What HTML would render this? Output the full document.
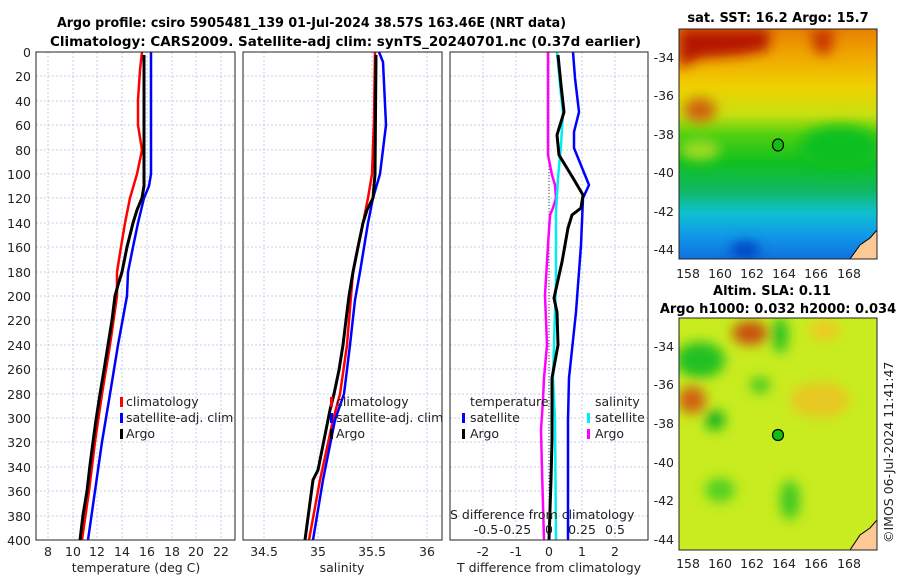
<!DOCTYPE html>
<html><head><meta charset="utf-8"><style>
body{margin:0;background:#fff;}
svg{display:block;font-family:"DejaVu Sans","Liberation Sans",sans-serif;}
.t{font-size:12.5px;fill:#222}
.b{font-size:13px;font-weight:bold;fill:#000}
.g{stroke:#b8c4e8;stroke-width:0.8;stroke-dasharray:2,2}
</style></head><body>
<svg width="900" height="580" viewBox="0 0 900 580">
<defs>
<linearGradient id="sst" x1="0" y1="0" x2="0" y2="1">
<stop offset="0" stop-color="#e88000"/><stop offset="0.12" stop-color="#f0a800"/>
<stop offset="0.25" stop-color="#f0d000"/><stop offset="0.37" stop-color="#c8e010"/>
<stop offset="0.46" stop-color="#50d010"/><stop offset="0.58" stop-color="#10c020"/>
<stop offset="0.7" stop-color="#10b860"/><stop offset="0.8" stop-color="#10c0d0"/>
<stop offset="0.9" stop-color="#1098e8"/><stop offset="1" stop-color="#1070e0"/>
</linearGradient>
<filter id="bl"><feGaussianBlur stdDeviation="6"/></filter>
<clipPath id="c1"><rect x="679" y="29" width="198" height="230"/></clipPath>
<clipPath id="c2"><rect x="679" y="318" width="198" height="232"/></clipPath>
</defs>
<text x="57" y="27" textLength="509" lengthAdjust="spacingAndGlyphs" class="b">Argo profile: csiro 5905481_139 01-Jul-2024 38.57S 163.46E (NRT data)</text>
<text x="50" y="46" textLength="591" lengthAdjust="spacingAndGlyphs" class="b">Climatology: CARS2009. Satellite-adj clim: synTS_20240701.nc (0.37d earlier)</text>

<!-- Panel 1 -->
<g>
<g class="g">
<line x1="48" y1="52" x2="48" y2="540"/><line x1="73" y1="52" x2="73" y2="540"/><line x1="97" y1="52" x2="97" y2="540"/><line x1="122" y1="52" x2="122" y2="540"/><line x1="147" y1="52" x2="147" y2="540"/><line x1="172" y1="52" x2="172" y2="540"/><line x1="196" y1="52" x2="196" y2="540"/><line x1="221" y1="52" x2="221" y2="540"/>
</g>
<g id="hg" class="g">
<line x1="36" y1="76" x2="235" y2="76"/><line x1="36" y1="101" x2="235" y2="101"/><line x1="36" y1="125" x2="235" y2="125"/><line x1="36" y1="150" x2="235" y2="150"/><line x1="36" y1="174" x2="235" y2="174"/><line x1="36" y1="198" x2="235" y2="198"/><line x1="36" y1="223" x2="235" y2="223"/><line x1="36" y1="247" x2="235" y2="247"/><line x1="36" y1="272" x2="235" y2="272"/><line x1="36" y1="296" x2="235" y2="296"/><line x1="36" y1="320" x2="235" y2="320"/><line x1="36" y1="345" x2="235" y2="345"/><line x1="36" y1="369" x2="235" y2="369"/><line x1="36" y1="394" x2="235" y2="394"/><line x1="36" y1="418" x2="235" y2="418"/><line x1="36" y1="442" x2="235" y2="442"/><line x1="36" y1="467" x2="235" y2="467"/><line x1="36" y1="491" x2="235" y2="491"/><line x1="36" y1="516" x2="235" y2="516"/>
</g>
<polyline fill="none" stroke="#f00" stroke-width="2.5" points="142,52 140,70 138,100 138,125 142,150 137,174 130,198 125,223 121,247 117,272 117,296 110,345 102,394 95,442 89,491 82,540"/>
<polyline fill="none" stroke="#00f" stroke-width="2.5" points="151,52 151,174 149,186 144,198 138,223 133,247 128,272 127,296 118,345 110,394 102,442 95,491 88,540"/>
<polyline fill="none" stroke="#000" stroke-width="3" points="144,55 144,186 142,198 137,210 133,223 127,247 122,272 118,285 115,296 112,320 108,345 104,370 100,394 96,420 93,442 90,465 87,491 83,515 80,540"/>
<rect x="36" y="52" width="199" height="488" fill="none" stroke="#222" stroke-width="1"/>
<rect x="120" y="397" width="3" height="10" fill="#f00"/><text x="126" y="406" class="t">climatology</text>
<rect x="120" y="413" width="3" height="10" fill="#00f"/><text x="126" y="422" class="t">satellite-adj. clim</text>
<rect x="120" y="429" width="3" height="10" fill="#000"/><text x="126" y="438" class="t">Argo</text>
<g class="t" text-anchor="end">
<text x="31" y="57">0</text><text x="31" y="81">20</text><text x="31" y="106">40</text><text x="31" y="130">60</text><text x="31" y="155">80</text><text x="31" y="179">100</text><text x="31" y="203">120</text><text x="31" y="228">140</text><text x="31" y="252">160</text><text x="31" y="277">180</text><text x="31" y="301">200</text><text x="31" y="325">220</text><text x="31" y="350">240</text><text x="31" y="374">260</text><text x="31" y="399">280</text><text x="31" y="423">300</text><text x="31" y="447">320</text><text x="31" y="472">340</text><text x="31" y="496">360</text><text x="31" y="521">380</text><text x="31" y="545">400</text>
</g>
<g class="t" text-anchor="middle">
<text x="48" y="556">8</text><text x="73" y="556">10</text><text x="97" y="556">12</text><text x="122" y="556">14</text><text x="147" y="556">16</text><text x="172" y="556">18</text><text x="196" y="556">20</text><text x="221" y="556">22</text>
<text x="136" y="572">temperature (deg C)</text>
</g>
</g>

<!-- Panel 2 -->
<g>
<g class="g"><line x1="264" y1="52" x2="264" y2="540"/><line x1="318" y1="52" x2="318" y2="540"/><line x1="372" y1="52" x2="372" y2="540"/><line x1="427" y1="52" x2="427" y2="540"/></g>
<use href="#hg" transform="translate(207,0)"/>
<polyline fill="none" stroke="#f00" stroke-width="2.5" points="375,52 374,120 372,174 368,198 363,223 358,247 353,272 347,345 340,394 333,420 320,480 309,540"/>
<polyline fill="none" stroke="#00f" stroke-width="2.5" points="379,52 383,62 386,125 380,174 373,198 368,223 360,272 355,300 350,345 344,394 335,420 323,480 313,540"/>
<polyline fill="none" stroke="#000" stroke-width="3" points="376,55 375,174 373,198 367,210 363,223 358,247 353,272 349,296 346,320 343,345 339,370 334,394 330,410 328,420 322,450 318,470 313,480 309,510 305,540"/>
<rect x="243" y="52" width="199" height="488" fill="none" stroke="#222"/>
<rect x="330" y="397" width="3" height="10" fill="#f00"/><text x="336" y="406" class="t">climatology</text>
<rect x="330" y="413" width="3" height="10" fill="#00f"/><text x="336" y="422" class="t">satellite-adj. clim</text>
<rect x="330" y="429" width="3" height="10" fill="#000"/><text x="336" y="438" class="t">Argo</text>
<g class="t" text-anchor="middle"><text x="264" y="556">34.5</text><text x="318" y="556">35</text><text x="372" y="556">35.5</text><text x="427" y="556">36</text><text x="342" y="572">salinity</text></g>
</g>

<!-- Panel 3 -->
<g>
<g class="g"><line x1="483" y1="52" x2="483" y2="540"/><line x1="516" y1="52" x2="516" y2="540"/><line x1="549" y1="52" x2="549" y2="540"/><line x1="582" y1="52" x2="582" y2="540"/><line x1="615" y1="52" x2="615" y2="540"/></g>
<use href="#hg" transform="translate(414,0)"/>
<line x1="549" y1="52" x2="549" y2="540" stroke="#444" stroke-dasharray="1,2"/>
<polyline fill="none" stroke="#f0f" stroke-width="2.5" points="548,52 548,155 552,175 555,185 556,198 553,208 550,215 548,245 547,262 545,295 547,345 544,378 543,400 541,430 542,470 544,540"/>
<polyline fill="none" stroke="#0ee" stroke-width="2.5" points="557,52 561,95 563,112 561,145 558,178 556,212 556,278 553,378 555,420 556,540"/>
<polyline fill="none" stroke="#00f" stroke-width="2.5" points="573,52 575,78 579,112 574,132 574,148 589,185 583,198 581,245 576,312 569,378 568,420 568,540"/>
<polyline fill="none" stroke="#000" stroke-width="3" points="558,55 561,85 564,112 557,135 559,155 573,178 583,195 581,208 572,215 568,228 562,262 554,298 557,312 558,345 552,378 552,440 551,480 550,510 549,540"/>
<rect x="450" y="52" width="198" height="488" fill="none" stroke="#222"/>
<text x="470" y="406" class="t">temperature</text>
<rect x="462" y="413" width="3" height="10" fill="#00f"/><text x="470" y="422" class="t">satellite</text>
<rect x="462" y="429" width="3" height="10" fill="#000"/><text x="470" y="438" class="t">Argo</text>
<text x="595" y="406" class="t">salinity</text>
<rect x="587" y="413" width="3" height="10" fill="#0ee"/><text x="595" y="422" class="t">satellite</text>
<rect x="587" y="429" width="3" height="10" fill="#f0f"/><text x="595" y="438" class="t">Argo</text>
<text x="450" y="519" class="t">S difference from climatology</text>
<g class="t" text-anchor="middle"><text x="486" y="534">-0.5</text><text x="515" y="534">-0.25</text><text x="549" y="534">0</text><text x="582" y="534">0.25</text><text x="615" y="534">0.5</text>
<text x="483" y="556">-2</text><text x="516" y="556">-1</text><text x="549" y="556">0</text><text x="582" y="556">1</text><text x="615" y="556">2</text>
<text x="549" y="572">T difference from climatology</text></g>
</g>

<!-- Map 1 -->
<text x="778" y="22" text-anchor="middle" class="b">sat. SST: 16.2 Argo: 15.7</text>
<g clip-path="url(#c1)">
<rect x="679" y="29" width="198" height="230" fill="url(#sst)"/>
<g filter="url(#bl)">
<path d="M679,29 H770 L768,50 L740,55 L700,58 L679,68Z" fill="#b51800"/>
<path d="M810,29 H835 L830,55 L815,52Z" fill="#c83800"/>
<ellipse cx="700" cy="110" rx="16" ry="12" fill="#d06010"/>
<ellipse cx="840" cy="148" rx="40" ry="22" fill="#10c020"/>
<ellipse cx="700" cy="150" rx="20" ry="10" fill="#a0dc20"/>
<ellipse cx="745" cy="250" rx="15" ry="8" fill="#0040c0"/>
</g>
<path d="M850,259 L860,245 L870,238 L877,230 V259Z" fill="#fbc896" stroke="#000"/>
</g>
<rect x="679" y="29" width="198" height="230" fill="none" stroke="#222"/>
<ellipse cx="778" cy="145" rx="5.5" ry="6" fill="#10c010" stroke="#000" stroke-width="1.2"/>
<g class="t" text-anchor="end"><text x="674" y="62">-34</text><text x="674" y="100">-36</text><text x="674" y="139">-38</text><text x="674" y="177">-40</text><text x="674" y="216">-42</text><text x="674" y="254">-44</text></g>
<g class="t" text-anchor="middle"><text x="688" y="278">158</text><text x="720" y="278">160</text><text x="752" y="278">162</text><text x="784" y="278">164</text><text x="816" y="278">166</text><text x="849" y="278">168</text></g>

<!-- Map 2 -->
<text x="772" y="295" text-anchor="middle" class="b">Altim. SLA: 0.11</text>
<text x="778" y="313" text-anchor="middle" class="b">Argo h1000: 0.032 h2000: 0.034</text>
<g clip-path="url(#c2)">
<rect x="679" y="318" width="198" height="232" fill="#c8ec20"/>
<g filter="url(#bl)">
<ellipse cx="750" cy="333" rx="18" ry="12" fill="#c85010"/>
<ellipse cx="692" cy="400" rx="14" ry="14" fill="#d06010"/>
<ellipse cx="700" cy="360" rx="25" ry="18" fill="#20c020"/>
<ellipse cx="715" cy="420" rx="10" ry="10" fill="#10b020"/>
<ellipse cx="780" cy="335" rx="8" ry="18" fill="#20c020"/>
<ellipse cx="760" cy="385" rx="10" ry="8" fill="#40c820"/>
<ellipse cx="820" cy="400" rx="30" ry="18" fill="#e8c820"/>
<ellipse cx="720" cy="490" rx="15" ry="12" fill="#50d020"/>
<ellipse cx="790" cy="500" rx="10" ry="20" fill="#40c820"/>
<ellipse cx="825" cy="330" rx="15" ry="10" fill="#f0c820"/>
</g>
<path d="M850,550 L860,535 L870,528 L877,520 V550Z" fill="#fbc896" stroke="#000"/>
</g>
<rect x="679" y="318" width="198" height="232" fill="none" stroke="#222"/>
<circle cx="778" cy="435" r="5.5" fill="#10c010" stroke="#000" stroke-width="1.2"/>
<g class="t" text-anchor="end"><text x="674" y="351">-34</text><text x="674" y="389">-36</text><text x="674" y="428">-38</text><text x="674" y="467">-40</text><text x="674" y="505">-42</text><text x="674" y="544">-44</text></g>
<g class="t" text-anchor="middle"><text x="688" y="568">158</text><text x="720" y="568">160</text><text x="752" y="568">162</text><text x="784" y="568">164</text><text x="816" y="568">166</text><text x="849" y="568">168</text></g>
<text transform="translate(893,543) rotate(-90)" class="t">©IMOS 06-Jul-2024 11:41:47</text>
</svg>
</body></html>
